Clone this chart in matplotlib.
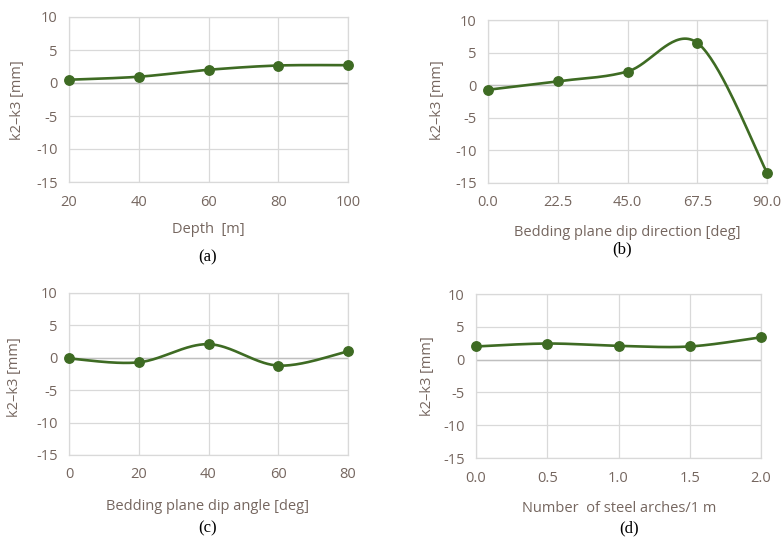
import numpy as np
import matplotlib
matplotlib.use("Agg")
import matplotlib.pyplot as plt

plt.rcParams["axes.unicode_minus"] = False

# ---- data ----
depth = [20, 40, 60, 80, 100]
depth_vals = [0.5, 0.95, 2.0, 2.65, 2.7]

dip_dir = [0.0, 22.5, 45.0, 67.5, 90.0]
dip_dir_vals = [-0.7, 0.6, 2.1, 6.5, -13.4]

dip_angle = [0, 20, 40, 60, 80]
dip_angle_vals = [-0.1, -0.7, 2.1, -1.2, 1.0]

arches = [0.0, 0.5, 1.0, 1.5, 2.0]
arches_vals = [2.0, 2.45, 2.1, 2.0, 3.4]

xlabels = ["Depth  [m]", "Bedding plane dip direction [deg]",
           "Bedding plane dip angle [deg]", "Number  of steel arches/1 m"]
captions = ["(a)", "(b)", "(c)", "(d)"]
ylabel = "k2\u2013k3 [mm]"
yticks = [-15, -10, -5, 0, 5, 10]

W, H = 783, 538
fig = plt.figure(figsize=(W / 100, H / 100), dpi=100)

TXT = "#75665f"
GREEN = "#3e6b23"
GRID = "#d9d9d9"
SANS = ["Open Sans", "DejaVu Sans"]
SERIF = ["Liberation Serif", "DejaVu Serif"]
FS = 10.5


def px_axes(l, t, r, b):
    return fig.add_axes([l / W, 1 - b / H, (r - l) / W, (b - t) / H])


def smooth(x, y, xr, yr, wpx, hpx, n=40):
    # Excel-like smoothing: cardinal bezier in pixel space
    X = (np.asarray(x, float) - xr[0]) / (xr[1] - xr[0]) * wpx
    Y = (np.asarray(y, float) - yr[0]) / (yr[1] - yr[0]) * hpx
    P = np.column_stack([X, Y])
    out = []
    m = len(P)
    for i in range(m - 1):
        p0 = P[max(i - 1, 0)]
        p1 = P[i]
        p2 = P[i + 1]
        p3 = P[min(i + 2, m - 1)]
        c1 = p1 + (p2 - p0) / 6.0
        c2 = p2 - (p3 - p1) / 6.0
        t = np.linspace(0, 1, n)[:, None]
        seg = ((1 - t) ** 3) * p1 + 3 * ((1 - t) ** 2) * t * c1 + 3 * (1 - t) * t ** 2 * c2 + t ** 3 * p2
        out.append(seg if i == 0 else seg[1:])
    S = np.vstack(out)
    sx = S[:, 0] / wpx * (xr[1] - xr[0]) + xr[0]
    sy = S[:, 1] / hpx * (yr[1] - yr[0]) + yr[0]
    return sx, sy


panels = [
    dict(box=(69, 17, 348, 182), x=depth, y=depth_vals, xt=depth, xtl=[str(v) for v in depth],
         xl=(208, 230), cap=(208, 257), yl=(18, 100)),
    dict(box=(488, 20, 767, 183), x=dip_dir, y=dip_dir_vals, xt=dip_dir, xtl=["%.1f" % v for v in dip_dir],
         xl=(627, 233), cap=(622, 249), yl=(438, 100)),
    dict(box=(69, 293, 348, 455), x=dip_angle, y=dip_angle_vals, xt=dip_angle, xtl=[str(v) for v in dip_angle],
         xl=(208, 507), cap=(208, 528), yl=(15, 377)),
    dict(box=(476, 294, 761, 458), x=arches, y=arches_vals, xt=arches, xtl=["%.1f" % v for v in arches],
         xl=(619, 509), cap=(629, 528), yl=(427, 376)),
]

for k, p in enumerate(panels):
    l, t, r, b = p["box"]
    ax = px_axes(l, t, r, b)
    xr = (p["x"][0], p["x"][-1])
    yr = (-15, 10)
    ax.set_xlim(*xr)
    ax.set_ylim(*yr)
    ax.set_xticks(p["xt"])
    ax.set_xticklabels(p["xtl"])
    ax.set_yticks(yticks)
    ax.grid(True, color=GRID, lw=0.9)
    ax.set_axisbelow(True)
    for s in ax.spines.values():
        s.set_color(GRID)
        s.set_linewidth(0.9)
    ax.axhline(0, color="#bfbfbf", lw=1.0, zorder=1)
    ax.tick_params(length=0, colors=TXT, labelsize=FS, pad=8)
    for lab in ax.get_xticklabels() + ax.get_yticklabels():
        lab.set_family(SANS)
    ax.tick_params(axis="x", pad=9)
    sx, sy = smooth(p["x"], p["y"], xr, yr, r - l, b - t)
    ax.plot(sx, sy, color=GREEN, lw=1.9, clip_on=False, zorder=3)
    ax.plot(p["x"], p["y"], "o", color=GREEN, ms=6.8, clip_on=False, zorder=4)

    fig.text(p["xl"][0] / W, 1 - p["xl"][1] / H, xlabels[k], ha="center", va="center",
             color=TXT, fontsize=FS, family=SANS)
    fig.text(p["cap"][0] / W, 1 - p["cap"][1] / H, captions[k], ha="center", va="center",
             color="black", fontsize=12, family=SERIF)
    fig.text(p["yl"][0] / W, 1 - p["yl"][1] / H, ylabel, ha="center", va="center", rotation=90,
             color=TXT, fontsize=FS, family=SANS)

fig.savefig("out.png", dpi=100)
